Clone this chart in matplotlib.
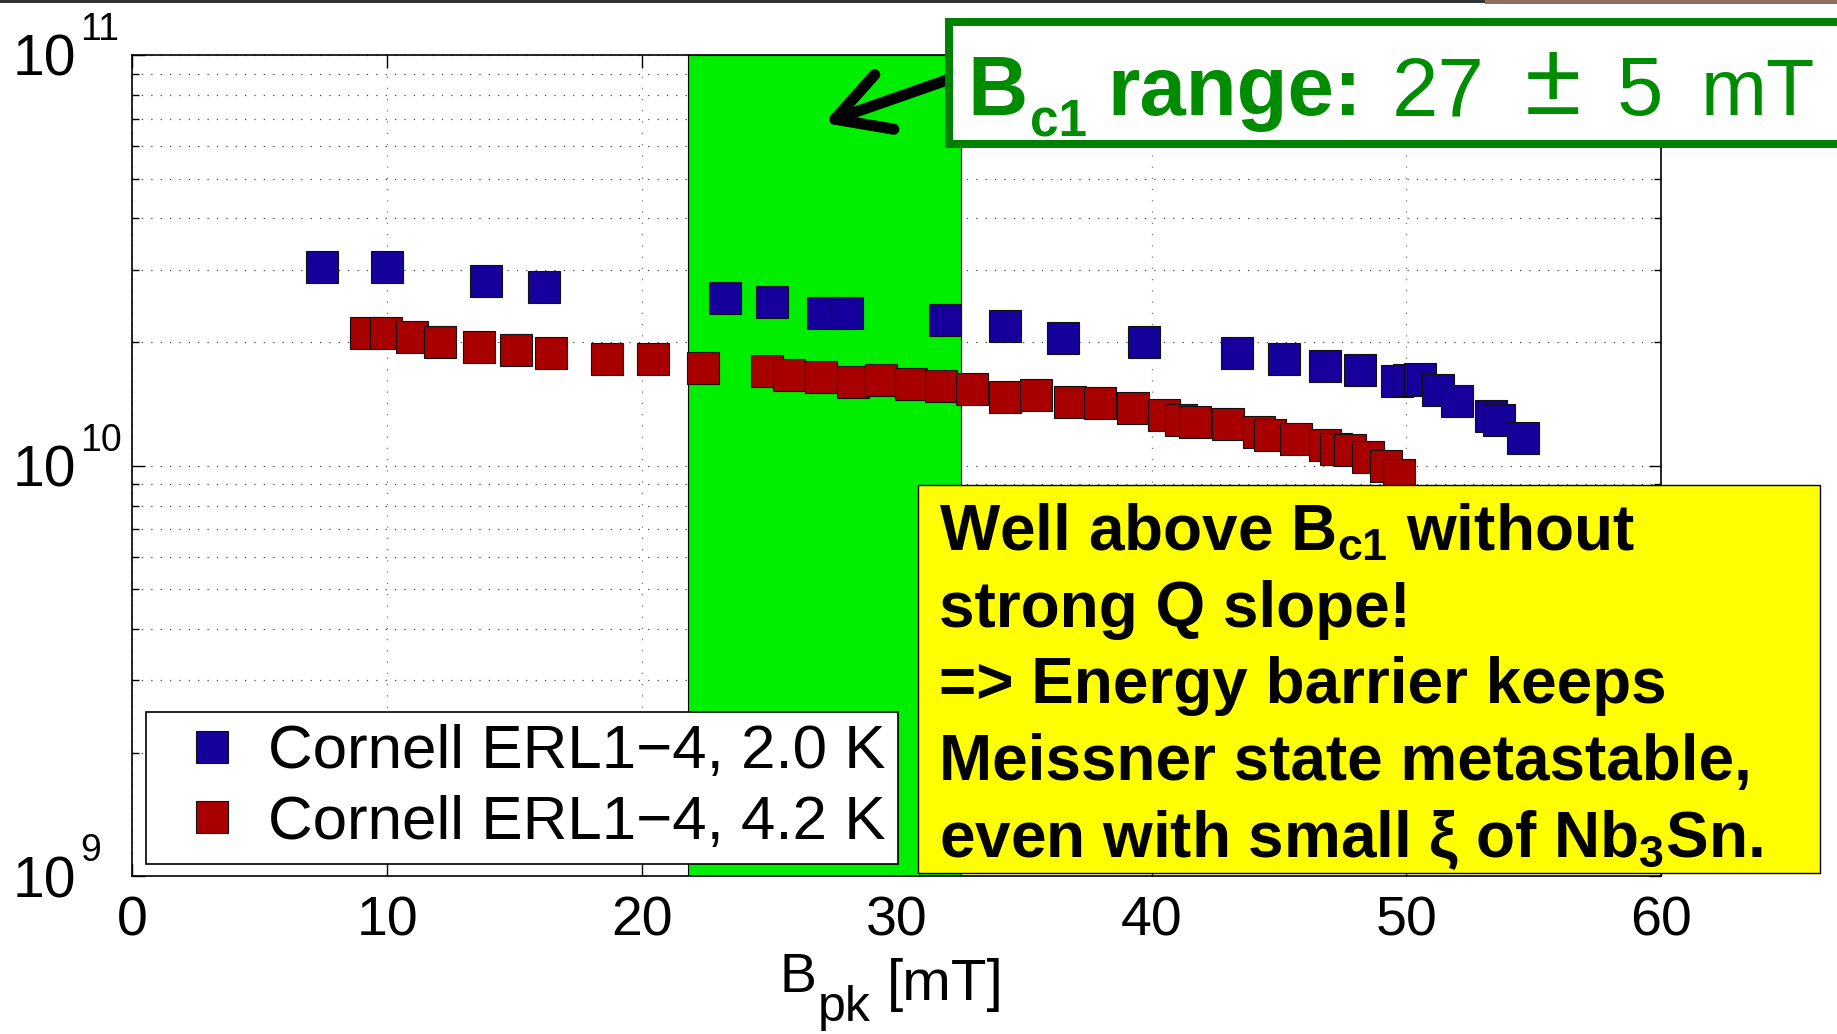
import matplotlib
matplotlib.use('Agg')
import matplotlib.pyplot as plt
from matplotlib import transforms
from matplotlib.patches import Rectangle
from matplotlib.ticker import LogLocator, NullFormatter, MultipleLocator
import numpy as np

W, H = 1837, 1034

plt.rcParams['font.family'] = ['Liberation Sans', 'DejaVu Sans']
plt.rcParams['mathtext.fontset'] = 'custom'
plt.rcParams['mathtext.rm'] = 'Liberation Sans'
plt.rcParams['mathtext.bf'] = 'Liberation Sans:bold'
plt.rcParams['mathtext.it'] = 'Liberation Sans:italic'

# Cornell ERL1-4, 2.0 K  (B_pk in mT, Q0 in units of 1e10)
b_20k = [7.45, 10.01, 13.87, 16.15, 23.27, 25.1, 27.1, 28.04, 31.88, 34.23,
         36.52, 39.71, 43.36, 45.18, 46.82, 48.19, 49.61, 50.08, 50.54, 51.22,
         52.0, 53.33, 53.63, 54.56]
q_20k = [3.05, 3.05, 2.82, 2.73, 2.56, 2.51, 2.35, 2.35, 2.26, 2.19,
         2.05, 2.00, 1.88, 1.82, 1.75, 1.71, 1.61, 1.62, 1.63, 1.53,
         1.44, 1.32, 1.29, 1.17]

# Cornell ERL1-4, 4.2 K
b_42k = [9.17, 9.96, 10.96, 12.06, 13.59, 15.07, 16.44, 18.63, 20.43, 22.39,
         24.9, 25.78, 27.01, 28.28, 29.36, 30.56, 31.73, 32.94, 34.24, 35.47,
         36.78, 37.98, 39.25, 40.49, 41.14, 41.72, 42.99, 44.23, 44.65, 45.66,
         46.8, 47.23, 47.78, 48.49, 49.18, 49.7]
q_42k = [2.10, 2.11, 2.06, 2.00, 1.95, 1.91, 1.88, 1.82, 1.82, 1.73,
         1.70, 1.66, 1.64, 1.60, 1.62, 1.58, 1.56, 1.54, 1.47, 1.49,
         1.43, 1.42, 1.38, 1.33, 1.29, 1.28, 1.26, 1.21, 1.19, 1.16,
         1.12, 1.10, 1.09, 1.05, 1.00, 0.95]

bc1_lo, bc1_hi = 21.8, 32.5
labels = ['Cornell ERL1\u22124, 2.0 K', 'Cornell ERL1\u22124, 4.2 K']
y_exps = [9, 10, 11]

blue = '#16009c'
red = '#a80000'
green_txt = '#008c00'
green_edge = '#008000'


def fpx(x, y):
    # pixel position (from top-left) -> figure fraction
    return x / W, 1 - y / H


fig = plt.figure(figsize=(W / 100, H / 100), dpi=100)
fig.patch.set_facecolor('white')
l, r = 132.4 / W, 1661.3 / W
b, t = 1 - 876.4 / H, 1 - 55 / H
ax = fig.add_axes([l, b, r - l, t - b])

ax.set_yscale('log')
ax.set_xlim(0, 60)
ax.set_ylim(1e9, 1e11)
ax.xaxis.set_major_locator(MultipleLocator(10))
ax.yaxis.set_major_locator(LogLocator(base=10, numticks=10))
ax.yaxis.set_minor_locator(LogLocator(base=10, subs=np.arange(2, 10), numticks=20))
ax.yaxis.set_minor_formatter(NullFormatter())

ax.set_axisbelow(True)
ax.grid(which='major', axis='x', ls=(0, (1, 8)), color='#777777', lw=0.9)
ax.grid(which='both', axis='y', ls=(0, (1, 6.5)), color='#444444', lw=0.9)

ax.axvspan(bc1_lo, bc1_hi, facecolor='#00ee00', edgecolor='black', lw=0.8, zorder=1)

h1, = ax.plot(b_20k, np.array(q_20k) * 1e10, 's', ms=23, mfc=blue, mec='#111111',
              mew=0.8, ls='none', zorder=3)
h2, = ax.plot(b_42k, np.array(q_42k) * 1e10, 's', ms=23, mfc=red, mec='#111111',
              mew=0.8, ls='none', zorder=3)

for s in ax.spines.values():
    s.set_linewidth(1.2)
ax.tick_params(which='both', direction='in', top=True, right=True, width=1)
ax.tick_params(which='major', length=9)
ax.tick_params(which='minor', length=5)
ax.tick_params(axis='x', labelsize=40, pad=14)
ax.tick_params(axis='y', labelleft=False)

# y tick labels: "10" with raised exponent
trans = transforms.blended_transform_factory(fig.transFigure, ax.transData)
for e in y_exps:
    tb = transforms.offset_copy(trans, fig=fig, x=0, y=-21, units='dots')
    te = transforms.offset_copy(trans, fig=fig, x=0, y=15, units='dots')
    ax.text(13 / W, 10.0 ** e, '10', transform=tb, fontsize=41,
            ha='left', va='baseline', clip_on=False)
    ax.text(80 / W, 10.0 ** e, str(e), transform=te, fontsize=27,
            ha='left', va='baseline', clip_on=False)

leg = ax.legend([h1, h2], labels, loc='lower left', bbox_to_anchor=(0.0089, 0.0147),
                prop={'size': 44.6}, frameon=True, fancybox=False, edgecolor='black',
                framealpha=1, borderpad=0.2, labelspacing=0.22, handlelength=1.72,
                handletextpad=0.05, borderaxespad=0, numpoints=1)
leg.get_frame().set_linewidth(1.2)
leg.set_zorder(5)

# x label  B_pk [mT]
fig.text(*fpx(779, 992), 'B', fontsize=40, ha='left', va='baseline')
fig.text(*fpx(818, 1021), 'pk', fontsize=36, ha='left', va='baseline')
fig.text(*fpx(887, 1000), '[mT]', fontsize=42, ha='left', va='baseline')

# dark strip along the top edge, with a sliver of a photo at the right
fig.patches.append(Rectangle(fpx(0, 3), 1, 3 / H, transform=fig.transFigure,
                             facecolor='#333333', edgecolor='none', zorder=10))
fig.patches.append(Rectangle(fpx(1485, 3.5), (W - 1485) / W, 3.5 / H,
                             transform=fig.transFigure, facecolor='#8d6f5c',
                             edgecolor='none', zorder=11))

# green-framed Bc1 box
x0, y0 = fpx(949, 144)
x1, y1 = fpx(1880, 22)
fig.patches.append(Rectangle((x0, y0), x1 - x0, y1 - y0, transform=fig.transFigure,
                             facecolor='white', edgecolor=green_edge, lw=5.8, zorder=7))
gkw = dict(color=green_txt, ha='left', va='baseline', zorder=8)
fig.text(*fpx(967, 115), 'B', fontsize=60, weight='bold', **gkw)
fig.text(*fpx(1030, 136), 'c1', fontsize=37, weight='bold', **gkw)
fig.text(*fpx(1107, 115), 'range:', fontsize=60, weight='bold', **gkw)
fig.text(*fpx(1392, 115), '27', fontsize=60, **gkw)
fig.text(*fpx(1553, 114), '\u00b1', fontsize=74, color=green_txt, ha='center',
         va='baseline', zorder=8)
fig.text(*fpx(1617, 115), '5', fontsize=60, **gkw)
fig.text(*fpx(1815, 115), 'mT', fontsize=57, color=green_txt, ha='right',
         va='baseline', zorder=8)

# arrow from the box into the green band
ann = ax.annotate('', xy=fpx(824, 123), xycoords='figure fraction',
                  xytext=fpx(947, 80), textcoords='figure fraction',
                  arrowprops=dict(arrowstyle='->,head_length=1.45,head_width=0.8',
                                  mutation_scale=26, lw=8, color='black',
                                  shrinkA=0, shrinkB=0, capstyle='round'),
                  annotation_clip=False)
ann.set_zorder(6)

# yellow note box
x0, y0 = fpx(918, 873)
x1, y1 = fpx(1820, 485)
fig.patches.append(Rectangle((x0, y0), x1 - x0, y1 - y0, transform=fig.transFigure,
                             facecolor='#ffff00', edgecolor='black', lw=1.0, zorder=7))
note = ['Well above B$_{\\mathbf{c1}}$ without',
        'strong Q slope!',
        '=> Energy barrier keeps',
        'Meissner state metastable,',
        'even with small \u03be of Nb$_{\\mathbf{3}}$Sn.']
for i, line in enumerate(note):
    fig.text(*fpx(939, 550 + 76.7 * i), line, fontsize=46, weight='bold',
             color='black', ha='left', va='baseline', zorder=8)

fig.savefig('out.png', dpi=100)
